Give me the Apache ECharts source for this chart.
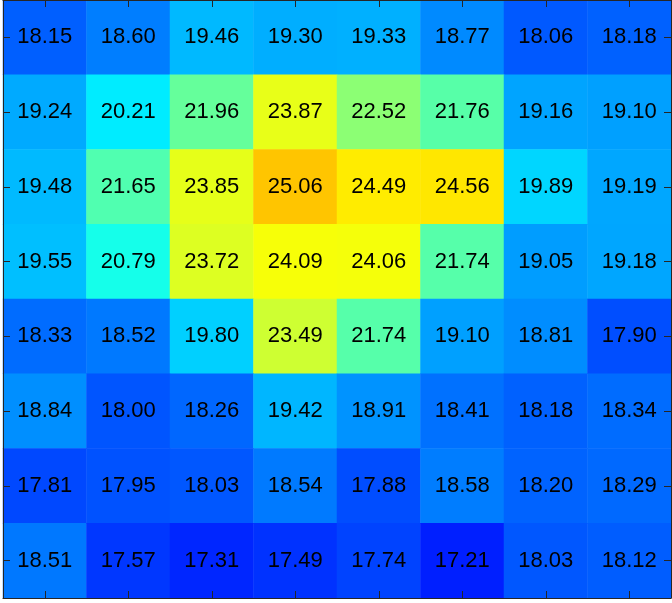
<!DOCTYPE html>
<html>
<head>
<meta charset="utf-8">
<script src="https://cdn.jsdelivr.net/npm/echarts@6/dist/echarts.min.js"></script>
<style>html,body{margin:0;padding:0;background:#fff}#c{width:672px;height:603px}</style>
</head>
<body>
<div id="c"></div>
<script>
const cols = ['1','2','3','4','5','6','7','8'];
const rows = ['1','2','3','4','5','6','7','8'];
const row1 = [18.15, 18.60, 19.46, 19.30, 19.33, 18.77, 18.06, 18.18];
const row2 = [19.24, 20.21, 21.96, 23.87, 22.52, 21.76, 19.16, 19.10];
const row3 = [19.48, 21.65, 23.85, 25.06, 24.49, 24.56, 19.89, 19.19];
const row4 = [19.55, 20.79, 23.72, 24.09, 24.06, 21.74, 19.05, 19.18];
const row5 = [18.33, 18.52, 19.80, 23.49, 21.74, 19.10, 18.81, 17.90];
const row6 = [18.84, 18.00, 18.26, 19.42, 18.91, 18.41, 18.18, 18.34];
const row7 = [17.81, 17.95, 18.03, 18.54, 17.88, 18.58, 18.20, 18.29];
const row8 = [18.51, 17.57, 17.31, 17.49, 17.74, 17.21, 18.03, 18.12];
const allRows = [row1, row2, row3, row4, row5, row6, row7, row8];

const data = [];
allRows.forEach((r, i) => r.forEach((v, j) => data.push([j, i, v])));

const jet = ['#000080','#0000ff','#0080ff','#00ffff','#80ff80','#ffff00','#ff8000','#ff0000','#800000'];
const tickStyle = {show: true, inside: true, length: 7, alignWithLabel: true, lineStyle: {color: '#262626', width: 1}};
const lineStyle = {show: true, lineStyle: {color: '#262626', width: 1}};
const axisCommon = {axisLabel: {show: false}, axisTick: tickStyle, axisLine: lineStyle, splitLine: {show: false}, z: 10};

const chart = echarts.init(document.getElementById('c'), null, {renderer: 'canvas'});
chart.setOption({
  animation: false,
  grid: {left: 3, top: 0, width: 668, height: 598, containLabel: false},
  xAxis: [
    Object.assign({type: 'category', data: cols, position: 'bottom'}, axisCommon),
    Object.assign({type: 'category', data: cols, position: 'top'}, axisCommon)
  ],
  yAxis: [
    Object.assign({type: 'category', data: rows, inverse: true, position: 'left'}, axisCommon),
    Object.assign({type: 'category', data: rows, inverse: true, position: 'right'}, axisCommon)
  ],
  visualMap: {show: false, min: 14.9, max: 29.8, dimension: 2, inRange: {color: jet}},
  series: [{
    type: 'heatmap',
    data: data,
    z: 1,
    label: {
      show: true,
      color: '#000',
      fontFamily: 'Liberation Sans, Arial, sans-serif',
      fontSize: 22,
      formatter: p => p.value[2].toFixed(2)
    },
    itemStyle: {borderWidth: 0},
    emphasis: {disabled: true}
  }]
});
</script>
</body>
</html>
